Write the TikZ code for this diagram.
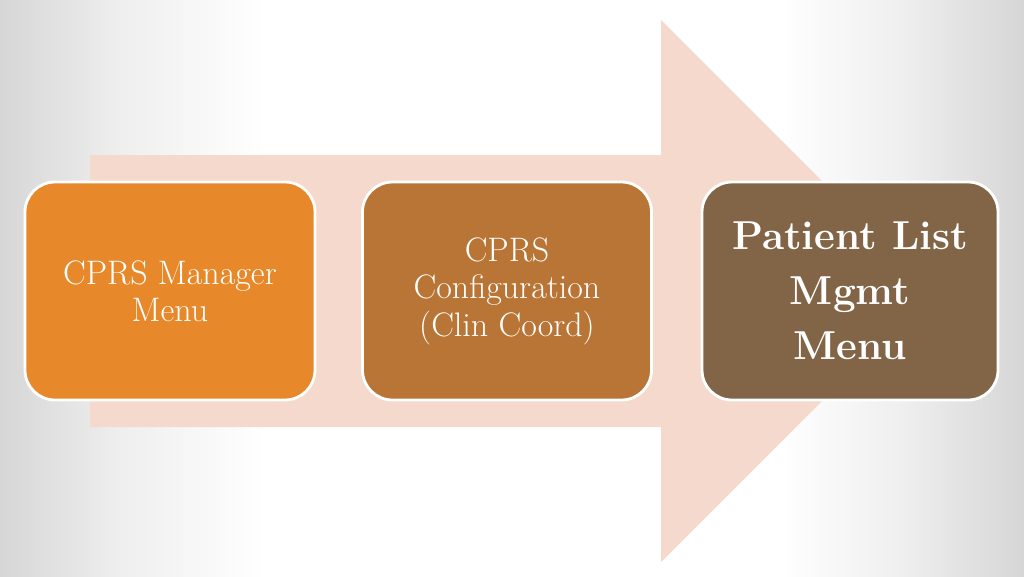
\documentclass[tikz,border=0pt]{standalone}
\definecolor{bggray}{HTML}{D6D6D6}
\definecolor{bglight}{HTML}{EFEFEF}
\definecolor{arrowpink}{HTML}{F4D9CC}
\definecolor{menuorange}{HTML}{E7892A}
\definecolor{menucopper}{HTML}{B87535}
\definecolor{menubrown}{HTML}{826547}
\pgfdeclarehorizontalshading{slidebg}{100bp}{color(0bp)=(bggray); color(25bp)=(bggray); color(31bp)=(bglight); color(38bp)=(white); color(63bp)=(white); color(69bp)=(bglight); color(75bp)=(bggray); color(100bp)=(bggray)}
\begin{document}
\begin{tikzpicture}[x=0.03cm, y=-0.03cm,
    menubox/.style={draw=white, line width=2.4pt, rounded corners=0.9cm,
      text=white, align=center, inner sep=0pt,
      minimum height=218*0.03cm},
    smalltext/.style={font=\fontsize{29}{32}\selectfont},
    bigtext/.style={font=\fontsize{34.5}{47}\selectfont\bfseries}]
  \useasboundingbox (0, 0) rectangle (1024, 576);
  \shade[shading=slidebg] (0, 0) rectangle (1024, 576);
  % big arrow behind the boxes
  \fill[arrowpink] (90, 155) -- (661, 155) -- (661, 20) -- (932, 291)
    -- (661, 562) -- (661, 427) -- (90, 427) -- cycle;
  \node[menubox, smalltext, fill=menuorange, minimum width=290*0.03cm] (manager) at (170, 291) {CPRS Manager\\Menu};
  \node[menubox, smalltext, fill=menucopper, minimum width=289*0.03cm] (config) at (507, 291) {CPRS\\Configuration\\(Clin Coord)};
  \node[menubox, bigtext, fill=menubrown, minimum width=296*0.03cm] (patlist) at (850, 291) {Patient List\\Mgmt\\Menu};
\end{tikzpicture}
\end{document}
